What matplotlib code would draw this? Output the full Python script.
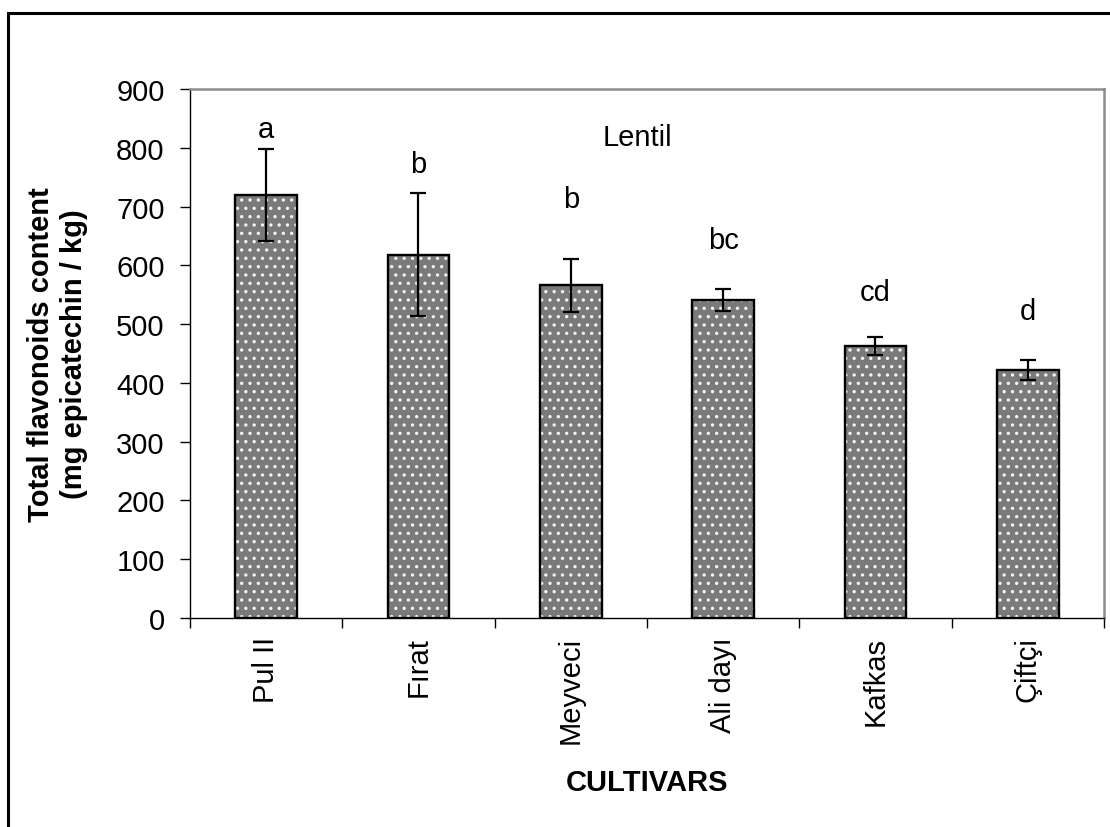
import numpy as np
import matplotlib
matplotlib.use("Agg")
import matplotlib.pyplot as plt
from matplotlib.patches import Rectangle

plt.rcParams['font.family'] = ['Liberation Sans', 'DejaVu Sans']
plt.rcParams['hatch.linewidth'] = 1.2

# Data: total flavonoid content of lentil cultivars
cultivars = ["Pul II", "Fırat", "Meyveci", "Ali dayı", "Kafkas", "Çiftçi"]
flavonoids = [720, 618, 566, 541, 463, 422]
errors = [78, 105, 45, 19, 15, 17]
groups = ["a", "b", "b", "bc", "cd", "d"]
group_y = [832, 772, 713, 643, 555, 522]

fig = plt.figure(figsize=(11.1, 8.28), dpi=100)
ax = fig.add_axes([190 / 1110, 1 - 619 / 828, (1104 - 190) / 1110, (619 - 90) / 828])

x = np.arange(len(cultivars))
width = 0.405

# dotted grey fill, then black outline on top
ax.bar(x, flavonoids, width=width, color="#7a7a7a", edgecolor="#f4f4f4",
       hatch="..", linewidth=0, zorder=2)
ax.bar(x, flavonoids, width=width, fill=False, edgecolor="black",
       linewidth=1.7, zorder=3)
ax.errorbar(x, flavonoids, yerr=errors, fmt="none", ecolor="black",
            elinewidth=1.6, capsize=5.8, capthick=1.6, zorder=4)

for xi, g, gy in zip(x, groups, group_y):
    ax.text(xi, gy, g, ha="center", va="center", fontsize=21)

ax.text(2.44, 818, "Lentil", ha="center", va="center", fontsize=21)

ax.set_xlim(-0.5, 5.5)
ax.set_ylim(0, 900)
ax.set_yticks(np.arange(0, 901, 100))
ax.tick_params(axis="y", direction="out", length=7.2, width=1, labelsize=21, pad=11)

ax.set_xticks(x)
ax.set_xticklabels(cultivars, rotation=90, fontsize=21)
ax.set_xticks(np.arange(-0.5, 6.0, 1.0), minor=True)
ax.tick_params(axis="x", which="major", length=0, pad=13)
ax.tick_params(axis="x", which="minor", direction="out", length=7.2, width=1)

for side in ("left", "bottom"):
    ax.spines[side].set_color("black")
    ax.spines[side].set_linewidth(1)
for side in ("top", "right"):
    ax.spines[side].set_color("#8c8c8c")
    ax.spines[side].set_linewidth(1.8)

ax.set_ylabel("Total flavonoids content\n(mg epicatechin / kg)",
              fontsize=21, fontweight="bold", labelpad=20, linespacing=1.25)
ax.set_xlabel("CULTIVARS", fontsize=21, fontweight="bold", labelpad=18)

# outer frame
fig.patches.append(Rectangle((8 / 1110, -0.05), 1.1, 1 - 14 / 828 + 0.05,
                             transform=fig.transFigure, fill=False,
                             edgecolor="black", linewidth=2.2, zorder=10))

fig.savefig("out.png", dpi=100)
